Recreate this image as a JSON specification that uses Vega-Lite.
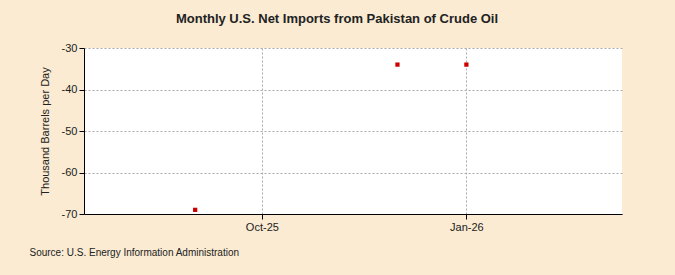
{
  "$schema": "https://vega.github.io/schema/vega-lite/v6.json",
  "width": 538,
  "height": 166,
  "autosize": {"type": "none"},
  "padding": {"left": 84, "top": 48, "right": 53, "bottom": 61},
  "background": "#FAEBD2",
  "title": {
    "text": "Monthly U.S. Net Imports from Pakistan of Crude Oil",
    "font": "Liberation Sans",
    "fontSize": 13,
    "fontWeight": "bold",
    "color": "#222222",
    "anchor": "middle",
    "dx": -16,
    "offset": 16
  },
  "data": {
    "values": [
      {"date": "2025-09-01", "value": -69},
      {"date": "2025-12-01", "value": -34},
      {"date": "2026-01-01", "value": -34}
    ]
  },
  "mark": {"type": "square", "size": 18, "color": "#CC0000", "opacity": 1},
  "encoding": {
    "x": {
      "field": "date",
      "type": "temporal",
      "scale": {"type": "utc", "domain": [{"year": 2025, "month": 7, "date": 13, "utc": true}, {"year": 2026, "month": 3, "date": 12, "utc": true}]},
      "axis": {
        "values": [{"year": 2025, "month": 10, "date": 1, "utc": true}, {"year": 2026, "month": 1, "date": 1, "utc": true}],
        "labelExpr": "utcFormat(datum.value, '%b-%y')",
        "title": "Source: U.S. Energy Information Administration",
        "titleFont": "Liberation Sans",
        "titleFontSize": 10,
        "titleFontWeight": "normal",
        "titleColor": "#222222",
        "titleAnchor": "start",
        "titleAlign": "left",
        "titleBaseline": "middle",
        "titleX": -55,
        "titleY": 38,
        "labelFont": "Liberation Sans",
        "labelFontSize": 11,
        "labelColor": "#222222",
        "labelPadding": 2,
        "domainColor": "#000000",
        "domainWidth": 1,
        "tickColor": "#000000",
        "tickSize": 5,
        "grid": true,
        "gridColor": "#AAAAAA",
        "gridDash": [2, 2],
        "gridWidth": 1
      }
    },
    "y": {
      "field": "value",
      "type": "quantitative",
      "scale": {"domain": [-70, -30], "nice": false, "zero": false},
      "axis": {
        "values": [-70, -60, -50, -40, -30],
        "labelExpr": "toString(datum.value)",
        "title": "Thousand Barrels per Day",
        "titleFont": "Liberation Sans",
        "titleFontSize": 11,
        "titleFontWeight": "normal",
        "titleColor": "#222222",
        "titlePadding": 11,
        "labelFont": "Liberation Sans",
        "labelFontSize": 11,
        "labelColor": "#222222",
        "labelPadding": 2,
        "domainColor": "#000000",
        "tickColor": "#000000",
        "tickSize": 5,
        "grid": true,
        "gridColor": "#AAAAAA",
        "gridDash": [2, 2]
      }
    }
  },
  "config": {
    "view": {"fill": "#FFFFFF", "stroke": null}
  }
}
